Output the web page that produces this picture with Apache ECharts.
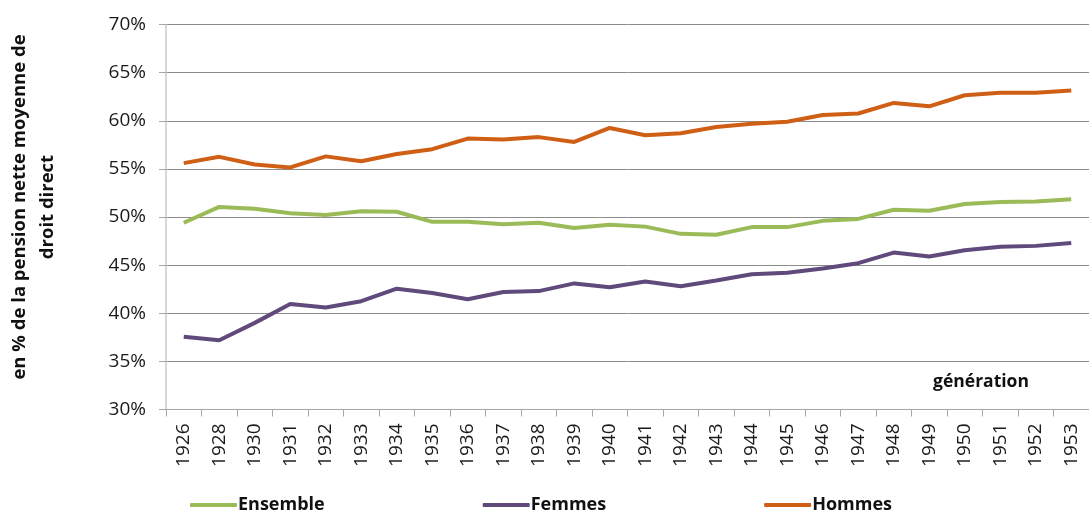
<!DOCTYPE html>
<html>
<head>
<meta charset="utf-8">
<script src="https://cdn.jsdelivr.net/npm/echarts@6/dist/echarts.min.js"></script>
<style>
html, body { margin: 0; padding: 0; background: #fff; overflow: hidden; }
#chart { width: 1089px; height: 510px; }
</style>
</head>
<body>
<div id="chart"></div>
<script>
// générations (1927 et 1929 absentes)
var generations = ['1926', '1928', '1930', '1931', '1932', '1933', '1934', '1935', '1936',
    '1937', '1938', '1939', '1940', '1941', '1942', '1943', '1944', '1945', '1946',
    '1947', '1948', '1949', '1950', '1951', '1952', '1953'];

var ensemble = [49.4, 51.05, 50.85, 50.4, 50.2, 50.6, 50.55, 49.5, 49.5,
    49.25, 49.4, 48.85, 49.2, 49.0, 48.25, 48.15, 48.95, 48.95, 49.6,
    49.8, 50.75, 50.65, 51.35, 51.55, 51.6, 51.85];

var femmes = [37.55, 37.2, 39.0, 40.95, 40.6, 41.25, 42.55, 42.1, 41.45,
    42.2, 42.3, 43.1, 42.7, 43.3, 42.8, 43.4, 44.05, 44.2, 44.65,
    45.2, 46.3, 45.9, 46.55, 46.9, 47.0, 47.3];

var hommes = [55.6, 56.25, 55.45, 55.15, 56.3, 55.8, 56.55, 57.05, 58.15,
    58.05, 58.3, 57.8, 59.25, 58.5, 58.7, 59.35, 59.7, 59.9, 60.6,
    60.75, 61.85, 61.5, 62.65, 62.9, 62.9, 63.15];

var yTicks = [30, 35, 40, 45, 50, 55, 60, 65, 70];

var chart = echarts.init(document.getElementById('chart'));
var font = '"Open Sans", sans-serif';

option = {
    animation: false,
    textStyle: { fontFamily: font },
    grid: { left: 166, right: -10, top: 24.5, bottom: 100.5 },
    legend: {
        left: 185,
        top: 491,
        itemGap: 158,
        itemWidth: 47,
        itemHeight: 4,
        icon: 'roundRect',
        textStyle: { fontFamily: font, fontSize: 18, fontWeight: 'bold', color: '#111', padding: [0, 0, 0, -4] },
        data: ['Ensemble', 'Femmes', 'Hommes']
    },
    xAxis: {
        type: 'category',
        data: generations,
        boundaryGap: true,
        axisLine: { lineStyle: { color: '#a6a6a6', width: 1 } },
        axisTick: { show: true, length: 7, lineStyle: { color: '#a6a6a6' } },
        axisLabel: { rotate: 90, interval: 0, fontSize: 19, color: '#1a1a1a', margin: 14, fontFamily: font }
    },
    yAxis: {
        type: 'value',
        min: yTicks[0],
        max: yTicks[yTicks.length - 1],
        interval: 5,
        axisLine: { show: true, lineStyle: { color: '#c8c8c8', width: 1.5 } },
        axisTick: { show: true, length: 7, inside: false, lineStyle: { color: '#a6a6a6' } },
        splitLine: { lineStyle: { color: '#8c8c8c', width: 1 } },
        axisLabel: { fontSize: 19, color: '#1a1a1a', margin: 20, fontFamily: font, formatter: '{value}%' }
    },
    graphic: [
        {
            type: 'text',
            x: 34, y: 207,
            rotation: Math.PI / 2,
            style: {
                text: 'en % de la pension nette moyenne de\ndroit direct',
                fill: '#111',
                font: 'bold 18.5px "Open Sans", sans-serif',
                textAlign: 'center',
                textVerticalAlign: 'middle',
                lineHeight: 28
            }
        },
        {
            type: 'text',
            x: 981, y: 382,
            style: {
                text: 'génération',
                fill: '#111',
                font: 'bold 17.5px "Open Sans", sans-serif',
                textAlign: 'center',
                textVerticalAlign: 'middle'
            }
        }
    ],
    series: [
        {
            name: 'Ensemble', type: 'line', data: ensemble,
            symbol: 'none', lineStyle: { width: 4, color: '#9bbb59' }, itemStyle: { color: '#9bbb59' }
        },
        {
            name: 'Femmes', type: 'line', data: femmes,
            symbol: 'none', lineStyle: { width: 4, color: '#604a7b' }, itemStyle: { color: '#604a7b' }
        },
        {
            name: 'Hommes', type: 'line', data: hommes,
            symbol: 'none', lineStyle: { width: 4, color: '#cf5f15' }, itemStyle: { color: '#cf5f15' }
        }
    ]
};

if (option && typeof option === "object") {
    chart.setOption(option, true);
}
</script>
</body>
</html>
